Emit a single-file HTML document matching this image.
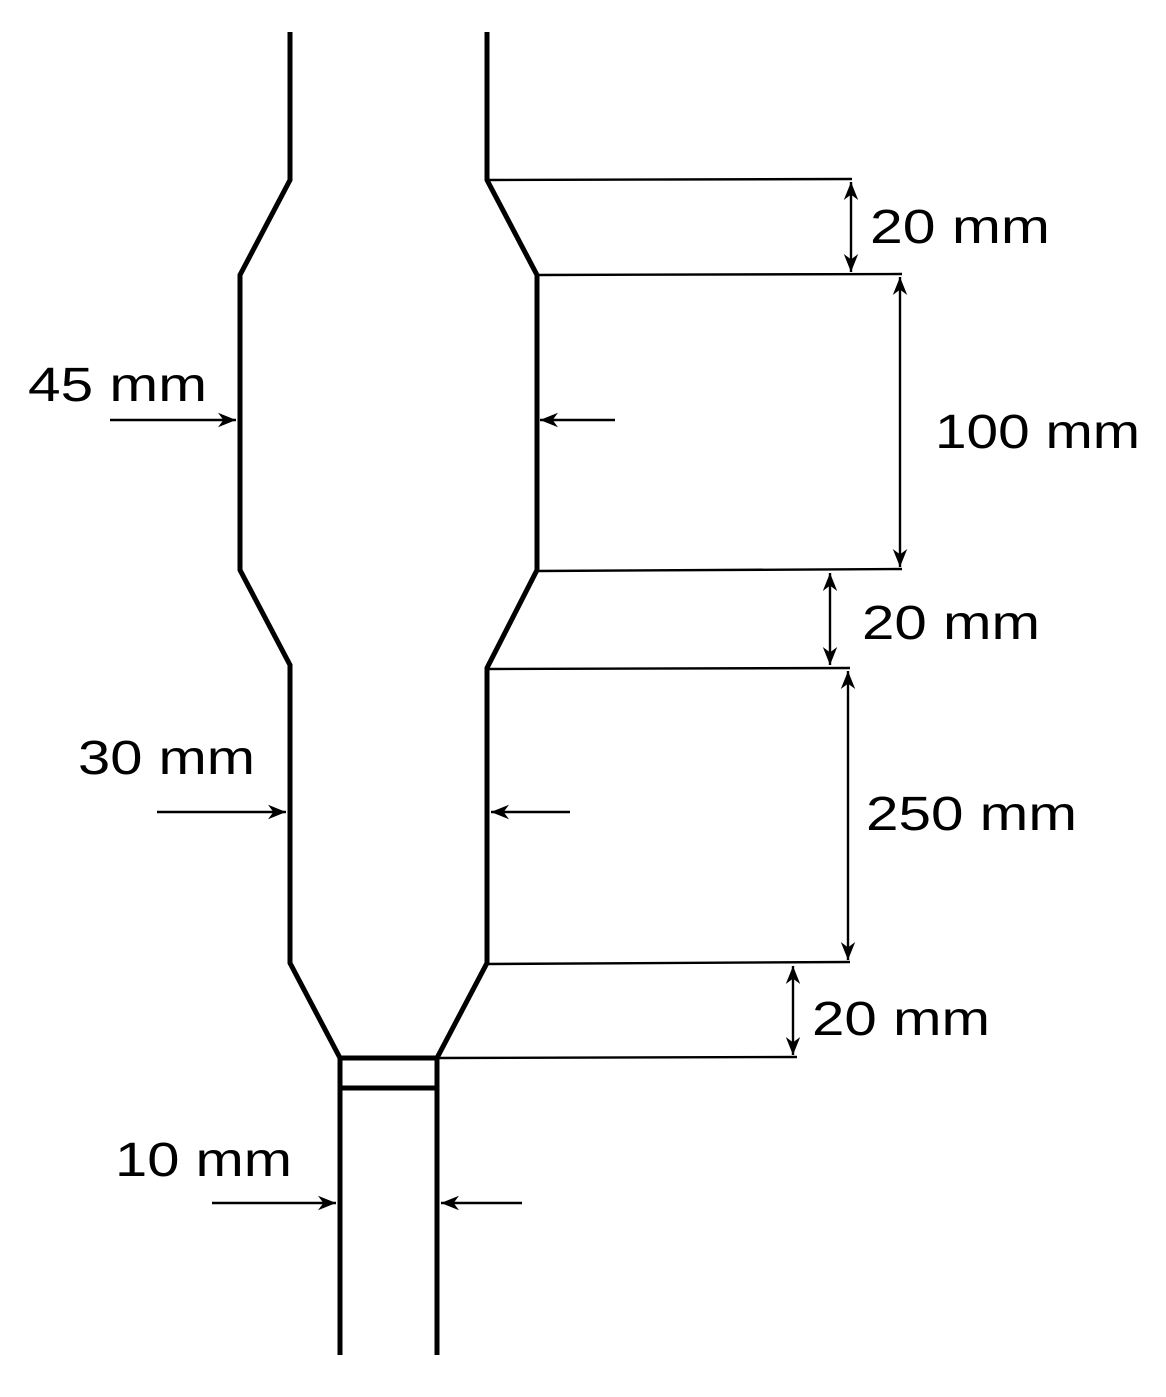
<!DOCTYPE html>
<html><head><meta charset="utf-8"><style>body{margin:0;background:#fff}</style></head>
<body>
<svg width="1166" height="1392" viewBox="0 0 1166 1392" xmlns="http://www.w3.org/2000/svg">
<defs>
<marker id="b" viewBox="0 0 10 10" refX="10" refY="5" markerWidth="18" markerHeight="18" markerUnits="userSpaceOnUse" orient="auto-start-reverse"><path d="M0,1 L10,5 L0,9 L3,5 z" fill="#000"/></marker>
</defs>
<g fill="none" stroke="#000" stroke-width="5" stroke-linejoin="miter">
<polyline points="290,32 290,180 240,275 240,570 290,665 290,963 340,1058 340,1355"/>
<polyline points="487,32 487,180 537,275 537,570 487,668 487,963 437,1058 437,1355"/>
<line x1="340" y1="1058" x2="437" y2="1058"/>
<line x1="340" y1="1088" x2="437" y2="1088"/>
</g>
<g stroke="#000" stroke-width="2.4" fill="none">
<line x1="487" y1="180" x2="852" y2="179"/>
<line x1="537" y1="275" x2="902" y2="274"/>
<line x1="537" y1="571" x2="902" y2="569"/>
<line x1="487" y1="669" x2="850" y2="668"/>
<line x1="487" y1="964" x2="850" y2="962"/>
<line x1="437" y1="1058" x2="797" y2="1057"/>
<line x1="851" y1="182" x2="851" y2="272" marker-start="url(#b)" marker-end="url(#b)"/>
<line x1="900" y1="277" x2="900" y2="567" marker-start="url(#b)" marker-end="url(#b)"/>
<line x1="830" y1="573" x2="830" y2="665" marker-start="url(#b)" marker-end="url(#b)"/>
<line x1="848" y1="671" x2="848" y2="960" marker-start="url(#b)" marker-end="url(#b)"/>
<line x1="793" y1="966" x2="793" y2="1055" marker-start="url(#b)" marker-end="url(#b)"/>
<line x1="110" y1="420" x2="236" y2="420" marker-end="url(#b)"/>
<line x1="615" y1="420" x2="540" y2="420" marker-end="url(#b)"/>
<line x1="157" y1="812" x2="286" y2="812" marker-end="url(#b)"/>
<line x1="570" y1="812" x2="491" y2="812" marker-end="url(#b)"/>
<line x1="212" y1="1203" x2="336" y2="1203" marker-end="url(#b)"/>
<line x1="522" y1="1203" x2="441" y2="1203" marker-end="url(#b)"/>
</g>
<g font-family="Liberation Sans, sans-serif" font-size="48" fill="#000" lengthAdjust="spacingAndGlyphs">
<text x="870" y="243" textLength="180" lengthAdjust="spacingAndGlyphs">20 mm</text>
<text x="935" y="448" textLength="205" lengthAdjust="spacingAndGlyphs">100 mm</text>
<text x="862" y="639" textLength="178" lengthAdjust="spacingAndGlyphs">20 mm</text>
<text x="866" y="830" textLength="211" lengthAdjust="spacingAndGlyphs">250 mm</text>
<text x="812" y="1035" textLength="178" lengthAdjust="spacingAndGlyphs">20 mm</text>
<text x="28" y="401" textLength="179" lengthAdjust="spacingAndGlyphs">45 mm</text>
<text x="78" y="774" textLength="177" lengthAdjust="spacingAndGlyphs">30 mm</text>
<text x="115" y="1176" textLength="177" lengthAdjust="spacingAndGlyphs">10 mm</text>
</g>
</svg>
</body></html>
